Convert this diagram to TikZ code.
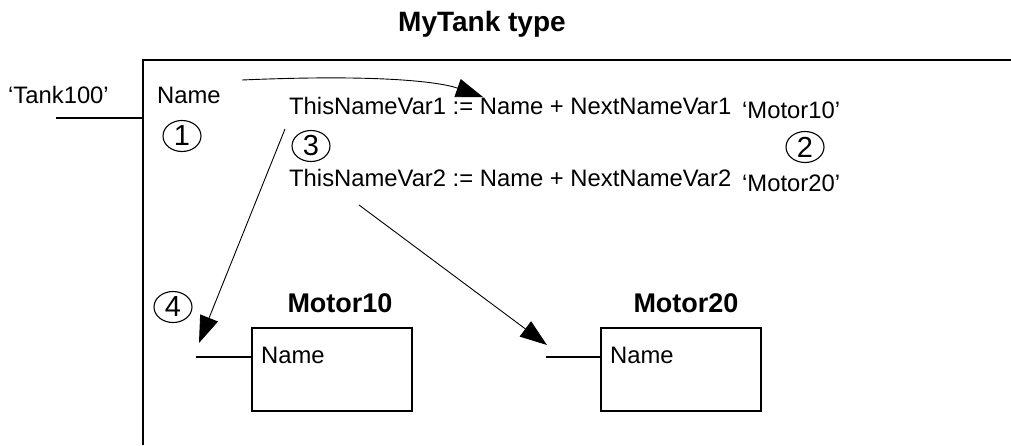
\documentclass[tikz,border=0pt]{standalone}
\usepackage{fontspec}
\setmainfont{Liberation Sans}
\usetikzlibrary{arrows.meta, positioning, calc, shapes.geometric}
\tikzstyle{txt}     = [inner sep=0pt, anchor=base west,
                       font=\fontsize{23.8}{26}\selectfont]
\tikzstyle{ttl}     = [inner sep=0pt, anchor=base,
                       font=\fontsize{27}{30}\selectfont\bfseries]
\tikzstyle{callout} = [ellipse, draw, line width=1.1pt, minimum width=38pt,
                       minimum height=31pt, inner sep=0pt,
                       font=\fontsize{29}{29}\selectfont]
\tikzstyle{fb}      = [rectangle, draw, line width=2pt, minimum width=160pt,
                       minimum height=83pt]
\tikzstyle{frame}   = [line width=2.4pt]
\tikzstyle{wire}    = [line width=2pt]
\tikzstyle{arr}     = [-{Triangle[length=27pt, width=19pt]}, line width=0.9pt]

\begin{document}
\begin{tikzpicture}[x=1pt, y=-1pt]
  \useasboundingbox (0,0) rectangle (1011,445);

  % type frame
  \node[ttl, font=\fontsize{28}{30}\selectfont\bfseries] (title) at (482,31) {MyTank type};
  \draw[frame] (1011,60) -| (143,445);

  % input parameter
  \node[txt] (tank) at (8,103) {`Tank100'};
  \coordinate (tin) at (56,118);
  \coordinate (tfr) at (143,118);
  \draw[wire] (tin) -- (tfr);
  \node[txt] (name) at (157,103) {Name};
  \node[callout] (c1) at (182,136) {1};

  % name expressions
  \node[txt] (var1) at (289,114) {ThisNameVar1 := Name + NextNameVar1};
  \node[txt] (var2) at (289,186) {ThisNameVar2 := Name + NextNameVar2};
  \node[callout] (c3) at (311,146) {3};
  \node[txt] (val1) at (742,118) {`Motor10'};
  \node[txt] (val2) at (742,191) {`Motor20'};
  \node[callout] (c2) at (805,147) {2};

  % motor instances
  \node[fb] (m10) at (332,369.5) {};
  \node[fb] (m20) at (681,369.5) {};
  \node[ttl] (t10) at (340,312) {Motor10};
  \node[ttl] (t20) at (686,312) {Motor20};
  \node[txt] (n10) at ([xshift=10pt]m10.west |- 0,363) {Name};
  \node[txt] (n20) at ([xshift=10pt]m20.west |- 0,363) {Name};
  \coordinate (s10) at (196,357);
  \coordinate (s20) at (546,357);
  \draw[wire] (s10) -- (s10 -| m10.west);
  \draw[wire] (s20) -- (s20 -| m20.west);
  \node[callout] (c4) at (173,307) {4};

  % arrows
  \coordinate (a1) at (242,80);
  \coordinate (a1e) at (483,97);
  \coordinate (a3) at (285,129);
  \coordinate (a3e) at ($(s10)+(3,-14)$);
  \coordinate (a4) at (359,205);
  \coordinate (a4e) at ($(s20)+(1,-12)$);
  \draw[arr] (a1) .. controls (380,74) and (440,82) .. (a1e);
  \draw[arr] (a3) -- (a3e);
  \draw[arr] (a4) -- (a4e);

\end{tikzpicture}
\end{document}
